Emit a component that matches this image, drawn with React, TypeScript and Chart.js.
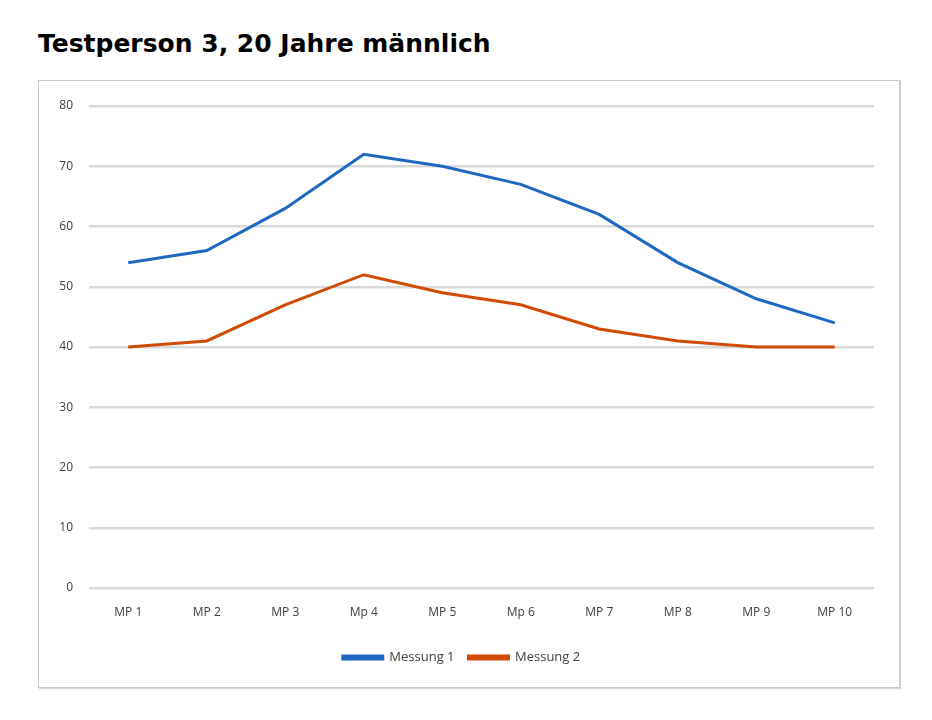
import { Chart, registerables } from 'chart.js';
import { useEffect, useRef } from 'react';

Chart.register(...registerables);

const categories = ['MP 1', 'MP 2', 'MP 3', 'Mp 4', 'MP 5', 'Mp 6', 'MP 7', 'MP 8', 'MP 9', 'MP 10'];
const messung1 = [54, 56, 63, 72, 70, 67, 62, 54, 48, 44];
const messung2 = [40, 41, 47, 52, 49, 47, 43, 41, 40, 40];
const yTicks = [0, 10, 20, 30, 40, 50, 60, 70, 80];

const tickFont = { family: '"Open Sans", "Noto Sans", sans-serif', size: 12 };

const LineChart: React.FC = () => {
  const chartRef = useRef<HTMLCanvasElement>(null);
  const chartInstanceRef = useRef<Chart | null>(null);

  useEffect(() => {
    const ctx = chartRef.current?.getContext('2d');

    if (ctx && chartInstanceRef.current === null) {
      chartInstanceRef.current = new Chart(ctx, {
        type: 'line',
        data: {
          labels: categories,
          datasets: [
            {
              label: 'Messung 1',
              data: messung1,
              borderColor: '#1f68c1',
              backgroundColor: '#1f68c1',
              borderWidth: 3,
              pointRadius: 0,
              tension: 0,
            },
            {
              label: 'Messung 2',
              data: messung2,
              borderColor: '#d04b04',
              backgroundColor: '#d04b04',
              borderWidth: 3,
              pointRadius: 0,
              tension: 0,
            },
          ],
        },
        options: {
          animation: false,
          responsive: false,
          layout: { padding: { left: 10, right: 25, top: 25, bottom: 13 } },
          plugins: {
            title: { display: false },
            tooltip: { enabled: false },
            legend: {
              position: 'bottom',
              labels: {
                boxWidth: 40,
                boxHeight: 3,
                padding: 14,
                color: '#404040',
                font: { ...tickFont, size: 13 },
              },
            },
          },
          scales: {
            x: {
              offset: true,
              grid: { display: false },
              border: { display: false },
              ticks: { color: '#404040', font: tickFont, padding: 9, maxRotation: 0 },
              afterFit: (scale: any) => {
                scale.height = 49;
              },
            },
            y: {
              min: 0,
              max: 80,
              afterBuildTicks: (scale: any) => {
                scale.ticks = yTicks.map((v) => ({ value: v }));
              },
              grid: { color: '#d9d9d9', lineWidth: 2.5, drawTicks: false },
              border: { display: false },
              ticks: { color: '#404040', font: tickFont, padding: 16 },
              afterFit: (scale: any) => {
                scale.width = 40;
              },
            },
          },
        },
      });
    }

    return () => {
      if (chartInstanceRef.current) {
        chartInstanceRef.current.destroy();
        chartInstanceRef.current = null;
      }
    };
  }, []);

  return <canvas ref={chartRef} width={860} height={606} style={{ display: 'block' }} />;
};

export default function App() {
  return (
    <div style={{ position: 'relative', width: 924, height: 704 }}>
      <div
        style={{
          position: 'absolute',
          left: 30,
          top: 21,
          fontFamily: '"DejaVu Sans", Verdana, sans-serif',
          fontWeight: 'bold',
          fontSize: 25,
          color: '#000',
        }}
      >
        Testperson 3, 20 Jahre männlich
      </div>
      <div
        style={{
          position: 'absolute',
          left: 30,
          top: 72,
          width: 860,
          height: 606,
          border: '1px solid #c6c6c6',
          boxShadow: '1px 1px 1px #d8d8d8',
          background: '#fff',
        }}
      >
        <LineChart />
      </div>
    </div>
  );
}
